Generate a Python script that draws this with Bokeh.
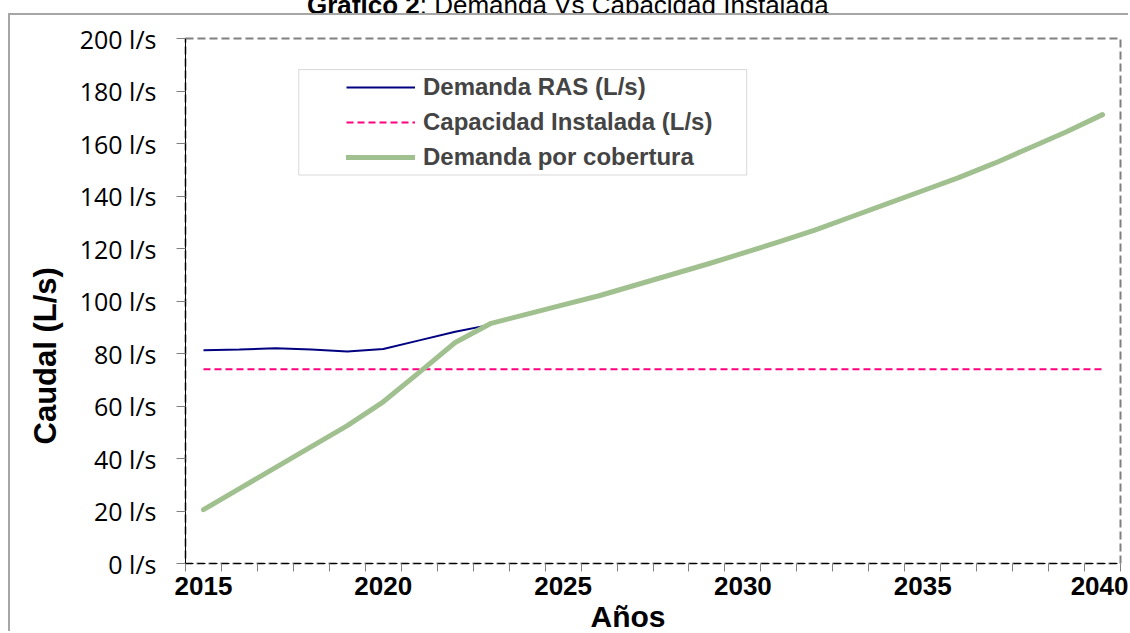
import math
from bokeh.plotting import figure
from bokeh.models import (FixedTicker, Legend, LegendItem, BoxAnnotation, Range1d, Title, Div)
from bokeh.layouts import column
from bokeh.embed import file_html
from bokeh.resources import INLINE

# ---------------- data ----------------
years = [2015, 2016, 2017, 2018, 2019, 2020, 2021, 2022, 2023, 2024, 2025, 2026, 2027,
         2028, 2029, 2030, 2031, 2032, 2033, 2034, 2035, 2036, 2037, 2038, 2039, 2040]
ras_years = [2015, 2016, 2017, 2018, 2019, 2020, 2021, 2022, 2023]
demanda_ras = [81.2, 81.5, 82.0, 81.5, 80.8, 81.7, 85.0, 88.3, 91.0]
capacidad = [74.0, 74.0, 74.0, 74.0, 74.0, 74.0, 74.0, 74.0, 74.0, 74.0, 74.0, 74.0, 74.0,
             74.0, 74.0, 74.0, 74.0, 74.0, 74.0, 74.0, 74.0, 74.0, 74.0, 74.0, 74.0, 74.0]
cobertura = [20.5, 28.5, 36.5, 44.5, 52.5, 61.6, 72.8, 84.2, 91.5, 95.0, 98.5, 102.0, 106.0,
             110.0, 114.0, 118.2, 122.5, 127.0, 132.0, 137.0, 142.0, 147.0, 152.5, 158.5, 164.5, 171.0]

x_label_years = [2015, 2020, 2025, 2030, 2035, 2040]
x_tick_labels = ["2015", "2020", "2025", "2030", "2035", "2040"]
y_ticks = [0, 20, 40, 60, 80, 100, 120, 140, 160, 180, 200]
y_tick_labels = ["0 l/s", "20 l/s", "40 l/s", "60 l/s", "80 l/s", "100 l/s", "120 l/s",
                 "140 l/s", "160 l/s", "180 l/s", "200 l/s"]

title_bold = "Gráfico 2"
title_rest = ": Demanda Vs Capacidad Instalada"
x_title = "Años"
y_title = "Caudal (L/s)"
series_names = ["Demanda RAS (L/s)", "Capacidad Instalada (L/s)", "Demanda por cobertura"]

# ---------------- layout ----------------
DIV_H = 13
FIG_ML, BORDER = 8, 2
FW, FH = 933, 523
PAGE_FL, PAGE_FT = 185, 38
PAGE_FB = PAGE_FT + FH
BL = PAGE_FL - FIG_ML - BORDER
BT = PAGE_FT - DIV_H - BORDER
BR, BB = 10, 70
X0, X1 = years[0] - 0.5, years[-1] + 0.5
Y0, Y1 = 0, 200


def dx(px):
    return X0 + (px - PAGE_FL) * (X1 - X0) / FW


def dy(py):
    return Y0 + (PAGE_FB - py) * (Y1 - Y0) / FH


p = figure(frame_width=FW, frame_height=FH, x_range=Range1d(X0, X1), y_range=Range1d(Y0, Y1),
           output_backend="svg", toolbar_location=None, title=None,
           min_border_left=BL, min_border_right=BR, min_border_top=BT, min_border_bottom=BB)
p.background_fill_color = "white"
p.border_fill_color = "white"
p.outline_line_color = "#808080"
p.outline_line_width = 2
p.outline_line_dash = "8 4"
p.xgrid.visible = False
p.ygrid.visible = False
p.styles = {"margin-left": f"{FIG_ML}px",
            "border-left": f"{BORDER}px solid #a6a6a6",
            "border-top": f"{BORDER}px solid #a6a6a6"}

# y axis
ya = p.yaxis[0]
ya.ticker = FixedTicker(ticks=y_ticks)
ya.major_label_overrides = {t: l for t, l in zip(y_ticks, y_tick_labels)}
ya.major_tick_in = 0
ya.major_tick_out = 9
ya.major_tick_line_color = "#808080"
ya.minor_tick_out = 0
ya.minor_tick_in = 0
ya.axis_line_color = "black"
ya.major_label_text_font = "Open Sans"
ya.major_label_text_font_size = "25px"
ya.major_label_text_color = "black"
ya.major_label_standoff = 20

# x axis
xa = p.xaxis[0]
xa.ticker = FixedTicker(ticks=x_label_years, minor_ticks=[y - 0.5 for y in years] + [years[-1] + 0.5])
xa.major_label_overrides = {t: l for t, l in zip(x_label_years, x_tick_labels)}
xa.major_tick_in = 0
xa.major_tick_out = 0
xa.minor_tick_in = 0
xa.minor_tick_out = 8
xa.minor_tick_line_color = "#808080"
xa.axis_line_color = "black"
xa.axis_line_dash = "8 4"
xa.major_label_text_font = "Liberation Sans"
xa.major_label_text_font_style = "bold"
xa.major_label_text_font_size = "26px"
xa.major_label_text_color = "black"
xa.major_label_standoff = 5

# axis titles (side-panel titles so they can sit outside the frame)
p.add_layout(Title(text=y_title, align="left", offset=119, standoff=27,
                   text_font="Liberation Sans", text_font_style="bold",
                   text_font_size="31px", text_color="black"), "left")
p.add_layout(Title(text=x_title, align="left", offset=405, standoff=0,
                   text_font="Liberation Sans", text_font_style="bold",
                   text_font_size="30px", text_color="black"), "below")

# series
r_cap = p.line(years, capacidad, line_color="#FF0080", line_width=2, line_dash="7 4")
r_ras = p.line(ras_years, demanda_ras, line_color="#000080", line_width=2)
r_cob = p.line(years, cobertura, line_color="#A1C08F", line_width=5,
               line_join="round", line_cap="round")

# legend
legend = Legend(items=[LegendItem(label=series_names[0], renderers=[r_ras]),
                       LegendItem(label=series_names[1], renderers=[r_cap]),
                       LegendItem(label=series_names[2], renderers=[r_cob])],
                location=(346 - PAGE_FL, PAGE_FB - 169), padding=0, margin=0, spacing=7,
                label_height=20, glyph_height=20, glyph_width=69, label_standoff=8,
                label_text_font="Liberation Sans", label_text_font_style="bold",
                label_text_font_size="24px", border_line_color=None, background_fill_alpha=0)
p.add_layout(legend)
p.add_layout(BoxAnnotation(left=dx(298), right=dx(745), top=dy(69), bottom=dy(174),
                           fill_alpha=0, line_color="#808080", line_width=1))

# chart title (top of it is cut off, as in the reference)
title_html = (
    f'<div style="position:relative; top:-1px; height:{DIV_H}px; margin-left:307px; '
    'white-space:nowrap; font-family:\'Liberation Sans\'; font-size:26px; '
    f'line-height:{DIV_H}px; color:black;">'
    f'<b>{title_bold}</b>{title_rest}</div>'
)
div = Div(text=title_html, width=1128, height=DIV_H, margin=0,
          styles={"overflow": "hidden", "height": f"{DIV_H}px"})

layout = column(div, p, spacing=0)
open("out.html", "w").write(file_html(layout, INLINE))
